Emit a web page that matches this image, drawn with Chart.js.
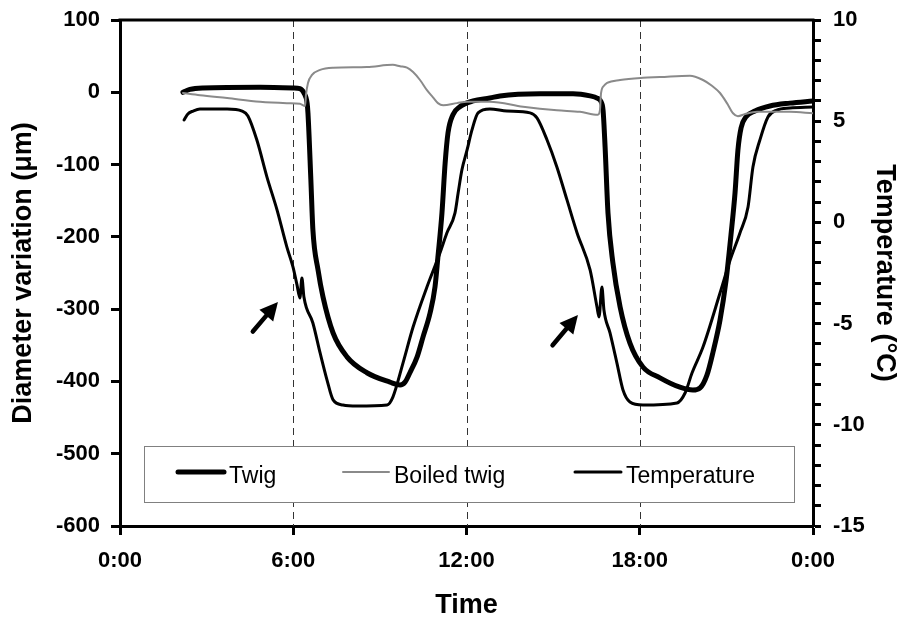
<!DOCTYPE html>
<html>
<head>
<meta charset="utf-8">
<script src="https://cdn.jsdelivr.net/npm/chart.js@4"></script>
<style>
  html, body { margin: 0; padding: 0; background: #fff; }
</style>
</head>
<body>
<canvas id="chart" width="909" height="622"></canvas>
<script>
// Twig diameter (µm)
const twigHours = [2.18, 2.42, 2.87, 4.85, 5.99, 6.23, 6.37, 6.48, 6.51, 6.61, 6.68, 6.86, 7.03, 7.38, 7.86,
  8.55, 9.35, 9.70, 9.87, 10.04, 10.29, 10.49, 10.74, 10.91, 11.01, 11.15, 11.26, 11.36, 11.53, 11.77,
  12.23, 12.81, 13.16, 14.55, 15.69, 16.28, 16.52, 16.66, 16.73, 16.80, 16.90, 17.07, 17.32, 17.66, 18.11,
  18.70, 19.39, 19.84, 20.09, 20.33, 20.54, 20.78, 20.99, 21.16, 21.30, 21.40, 21.51, 21.68, 21.99, 22.51,
  23.20, 24.0];
const twigDiameter = [0, 4, 6, 7, 6, 5, -1, -15, -29, -121, -190, -246, -283, -333, -366,
  -388, -401, -405, -401, -388, -366, -339, -305, -269, -228, -167, -98, -56, -31, -20,
  -12, -8, -5, -2, -2, -5, -8, -13, -25, -76, -167, -236, -297, -347, -380,
  -395, -408, -412, -409, -391, -359, -315, -260, -197, -139, -80, -49, -34, -26, -19,
  -15, -12];

// Boiled twig diameter (µm), grey curve
const boiledHours = [2.18, 2.77, 3.71, 4.85, 5.78, 6.23, 6.41, 6.44, 6.51, 6.65, 6.93, 7.38, 8.55, 9.45, 9.70,
  9.94, 10.15, 10.39, 10.63, 10.84, 11.01, 11.19, 11.67, 12.02, 12.81, 13.96, 15.13, 15.93, 16.55, 16.62,
  16.66, 16.76, 16.87, 17.32, 18.11, 18.70, 19.74, 20.19, 20.50, 20.78, 21.02, 21.23, 21.40, 21.65, 22.06,
  23.20, 24.0];
const boiledDiameter = [-1, -4, -8, -13, -15, -16, -19, -4, 13, 24, 31, 34, 35, 38, 36,
  34, 28, 17, 3, -7, -15, -18, -15, -13, -13, -20, -25, -27, -31, -25,
  -1, 9, 13, 17, 20, 21, 23, 17, 9, -1, -15, -29, -33, -30, -27,
  -27, -29];

// Temperature (°C), right axis
const tempHours = [2.22, 2.35, 2.53, 2.77, 3.71, 4.23, 4.43, 4.74, 5.09, 5.44, 5.78, 5.99, 6.13, 6.23, 6.30,
  6.37, 6.68, 6.93, 7.17, 7.38, 7.72, 8.21, 9.25, 9.45, 9.80, 10.15, 10.63, 11.08, 11.32,
  11.60, 11.71, 11.84, 12.02, 12.19, 12.40, 12.81, 13.40, 14.20, 14.44, 14.79, 15.13, 15.48, 15.83, 16.28,
  16.52, 16.59, 16.69, 16.76, 16.97, 17.21, 17.42, 17.66, 18.11, 19.29, 19.57, 19.81, 20.19, 20.78, 21.13,
  21.47, 21.75, 21.92, 22.16, 22.44, 22.75, 23.20, 24.0];
const tempValues = [5.06, 5.36, 5.50, 5.60, 5.60, 5.50, 5.26, 4.07, 2.24, 0.61, -1.22, -2.20, -3.09, -3.74, -2.75,
  -3.69, -4.97, -6.45, -7.79, -8.77, -9.02, -9.07, -9.02, -8.63, -6.95, -5.17, -3.19, -1.51, -0.52,
  0.46, 1.45, 2.59, 3.58, 4.57, 5.41, 5.60, 5.50, 5.41, 5.16, 4.07, 2.74, 1.11, -0.52, -2.35,
  -4.18, -4.67, -3.19, -4.33, -5.46, -6.95, -8.28, -8.87, -9.02, -8.92, -8.43, -7.44, -6.16, -3.49, -1.86,
  -0.52, 0.76, 2.74, 4.07, 5.21, 5.55, 5.65, 5.70];

// Dashed reference times and the two arrows (hours, µm)
const dashedHours = [6, 12, 18];
const arrowFrom = [[4.60, -331], [14.98, -350]];
const arrowTo = [[5.47, -290], [15.86, -308]];

const FONT = "'Liberation Sans', Arial, Helvetica, sans-serif";
const tickFont = { family: FONT, size: 22, weight: 'bold' };
const titleFont = { family: FONT, size: 27, weight: 'bold' };

function pairs(xs, ys) {
  return xs.map((x, i) => ({ x: x, y: ys[i] }));
}

function drawArrow(ctx, x1, y1, x2, y2) {
  const ang = Math.atan2(y2 - y1, x2 - x1);
  const head = 18, half = 9;
  const bx = x2 - head * Math.cos(ang), by = y2 - head * Math.sin(ang);
  ctx.lineWidth = 4.5;
  ctx.lineCap = 'round';
  ctx.beginPath();
  ctx.moveTo(x1, y1);
  ctx.lineTo(bx + 2 * Math.cos(ang), by + 2 * Math.sin(ang));
  ctx.stroke();
  ctx.beginPath();
  ctx.moveTo(x2, y2);
  ctx.lineTo(bx + half * Math.sin(ang), by - half * Math.cos(ang));
  ctx.lineTo(bx - half * Math.sin(ang), by + half * Math.cos(ang));
  ctx.closePath();
  ctx.fill();
}

// pin the plot area: axis label padding must not push the top down
function pinY(s, width) {
  s.width = width;
  s.paddingTop = 20;
  s.paddingBottom = 0;
}

const decor = {
  id: 'decor',
  beforeDatasetsDraw(chart) {
    const { ctx, chartArea, scales } = chart;
    ctx.save();
    ctx.strokeStyle = '#333';
    ctx.lineWidth = 1;
    ctx.setLineDash([7, 5]);
    dashedHours.forEach(h => {
      const x = Math.round(scales.x.getPixelForValue(h)) + 0.5;
      ctx.beginPath();
      ctx.moveTo(x, chartArea.top);
      ctx.lineTo(x, chartArea.bottom);
      ctx.stroke();
    });
    ctx.restore();
  },
  afterDatasetsDraw(chart) {
    const { ctx, chartArea, scales } = chart;
    ctx.save();
    // top frame line
    ctx.strokeStyle = '#000';
    ctx.lineWidth = 3;
    ctx.beginPath();
    ctx.moveTo(chartArea.left - 1.5, chartArea.top);
    ctx.lineTo(chartArea.right + 1.5, chartArea.top);
    ctx.stroke();

    // arrows
    ctx.fillStyle = '#000';
    arrowFrom.forEach((p, i) => {
      const q = arrowTo[i];
      drawArrow(ctx,
        scales.x.getPixelForValue(p[0]), scales.y.getPixelForValue(p[1]),
        scales.x.getPixelForValue(q[0]), scales.y.getPixelForValue(q[1]));
    });

    // legend box inside the plot
    const left = chartArea.left + 24, right = chartArea.right - 19;
    const top = chartArea.bottom - 80, bottom = chartArea.bottom - 24;
    ctx.fillStyle = '#fff';
    ctx.fillRect(left, top, right - left, bottom - top);
    ctx.strokeStyle = '#808080';
    ctx.lineWidth = 1;
    ctx.strokeRect(left + 0.5, top + 0.5, right - left, bottom - top);
    const offsets = [34, 199, 431];
    const lineY = top + 26;
    ctx.font = '23px ' + FONT;
    ctx.textBaseline = 'alphabetic';
    ctx.textAlign = 'left';
    chart.data.datasets.forEach((ds, i) => {
      const x0 = left + offsets[i];
      ctx.strokeStyle = ds.borderColor;
      ctx.lineWidth = ds.borderWidth;
      ctx.lineCap = 'round';
      ctx.beginPath();
      ctx.moveTo(x0, lineY);
      ctx.lineTo(x0 + 46, lineY);
      ctx.stroke();
      ctx.fillStyle = '#000';
      ctx.fillText(ds.label, x0 + 51, top + 37);
    });
    ctx.restore();
  }
};

new Chart(document.getElementById('chart'), {
  type: 'line',
  data: {
    datasets: [
      { label: 'Twig', data: pairs(twigHours, twigDiameter), yAxisID: 'y',
        borderColor: '#000', borderWidth: 5, order: 1 },
      { label: 'Boiled twig', data: pairs(boiledHours, boiledDiameter), yAxisID: 'y',
        borderColor: '#8a8a8a', borderWidth: 2, order: 0 },
      { label: 'Temperature', data: pairs(tempHours, tempValues), yAxisID: 'y1',
        borderColor: '#000', borderWidth: 3, order: 2 }
    ]
  },
  options: {
    responsive: false,
    animation: false,
    devicePixelRatio: 1,
    layout: { padding: { top: 20, left: 0, right: 0, bottom: 0 } },
    elements: {
      point: { radius: 0 },
      line: { cubicInterpolationMode: 'monotone', borderCapStyle: 'round', borderJoinStyle: 'round' }
    },
    plugins: { legend: { display: false }, tooltip: { enabled: false } },
    scales: {
      x: {
        type: 'linear', position: 'bottom', min: 0, max: 24,
        ticks: { stepSize: 6, autoSkip: false, maxRotation: 0, padding: 13, color: '#000', font: tickFont,
          callback: v => (v % 24) + ':00' },
        grid: { drawOnChartArea: false, tickLength: 9, tickWidth: 3, tickColor: '#000' },
        border: { color: '#000', width: 3 },
        title: { display: true, text: 'Time', color: '#000', font: titleFont, padding: { top: 0, bottom: 0 } },
        afterFit: s => { s.height = 96; }
      },
      y: {
        type: 'linear', position: 'left', min: -600, max: 100,
        ticks: { stepSize: 100, autoSkip: false, padding: 11, color: '#000', font: tickFont },
        grid: { drawOnChartArea: false, tickLength: 9, tickWidth: 3, tickColor: '#000' },
        border: { color: '#000', width: 3 },
        title: { display: true, text: 'Diameter variation (μm)', color: '#000', font: titleFont,
          padding: { top: 7, bottom: 0 } },
        afterFit: s => pinY(s, 120)
      },
      y1: {
        type: 'linear', position: 'right', min: -15, max: 10,
        ticks: { stepSize: 1, autoSkip: false, padding: 12, color: '#000', font: tickFont,
          callback: v => (v % 5 === 0 ? String(v) : '') },
        grid: { drawOnChartArea: false, tickLength: 8, tickWidth: 3, tickColor: '#000' },
        border: { color: '#000', width: 3 },
        title: { display: true, text: 'Temperature (°C)', color: '#000', font: titleFont,
          padding: { top: 8, bottom: 0 } },
        afterFit: s => pinY(s, 96)
      }
    }
  },
  plugins: [decor]
});
</script>
</body>
</html>
